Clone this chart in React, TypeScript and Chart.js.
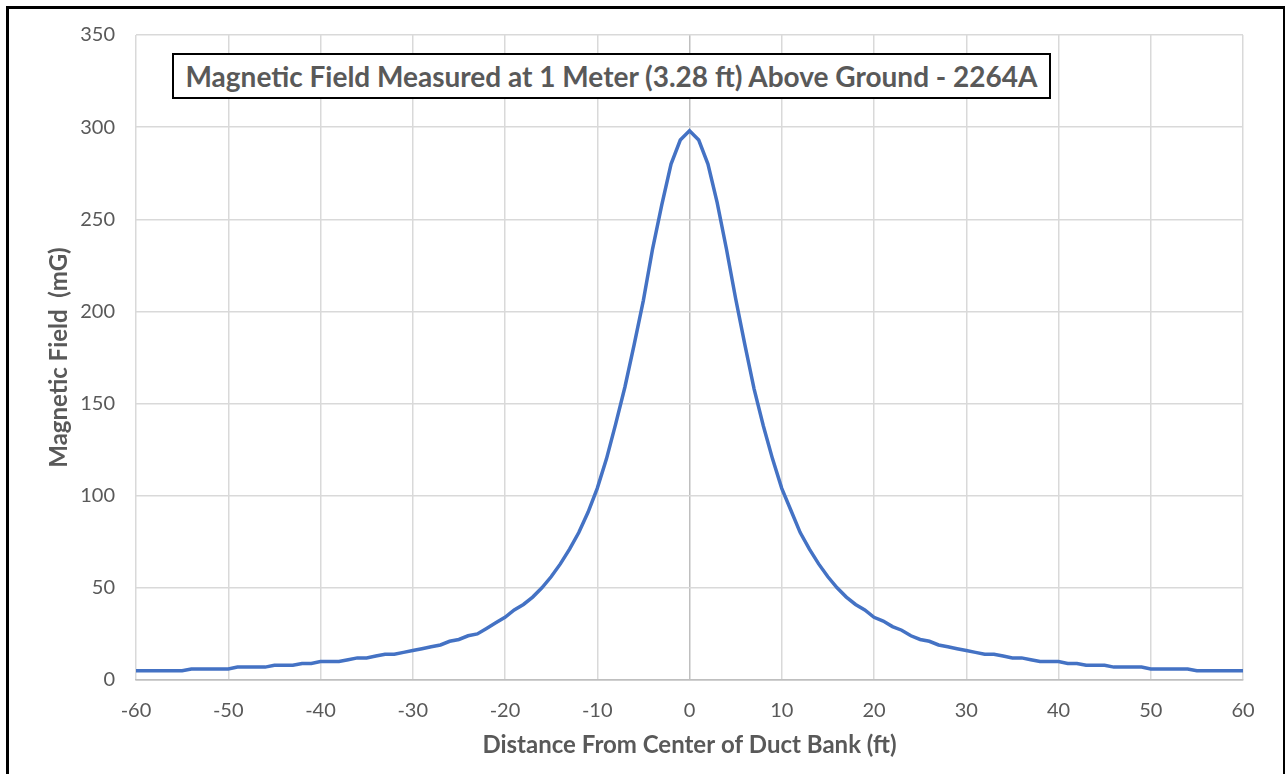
import React, { useEffect, useRef } from "react";
import { Chart, registerables } from "chart.js";

Chart.register(...registerables);

const distanceFt: number[] = [
  -60, -59, -58, -57, -56, -55, -54, -53, -52, -51, -50, -49, -48, -47, -46, -45, -44, -43, -42, -41,
  -40, -39, -38, -37, -36, -35, -34, -33, -32, -31, -30, -29, -28, -27, -26, -25, -24, -23, -22, -21,
  -20, -19, -18, -17, -16, -15, -14, -13, -12, -11, -10, -9, -8, -7, -6, -5, -4, -3, -2, -1,
  0,
  1, 2, 3, 4, 5, 6, 7, 8, 9, 10, 11, 12, 13, 14, 15, 16, 17, 18, 19, 20,
  21, 22, 23, 24, 25, 26, 27, 28, 29, 30, 31, 32, 33, 34, 35, 36, 37, 38, 39, 40,
  41, 42, 43, 44, 45, 46, 47, 48, 49, 50, 51, 52, 53, 54, 55, 56, 57, 58, 59, 60,
];

const fieldMg: number[] = [
  5, 5, 5, 5, 5, 5, 6, 6, 6, 6, 6, 7, 7, 7, 7, 8, 8, 8, 9, 9,
  10, 10, 10, 11, 12, 12, 13, 14, 14, 15, 16, 17, 18, 19, 21, 22, 24, 25, 28, 31,
  34, 38, 41, 45, 50, 56, 63, 71, 80, 91, 104, 120, 139, 159, 182, 206, 234, 258, 280, 293,
  298,
  293, 280, 259, 234, 207, 182, 158, 138, 120, 104, 92, 80, 71, 63, 56, 50, 45, 41, 38, 34,
  32, 29, 27, 24, 22, 21, 19, 18, 17, 16, 15, 14, 14, 13, 12, 12, 11, 10, 10, 10,
  9, 9, 8, 8, 8, 7, 7, 7, 7, 6, 6, 6, 6, 6, 5, 5, 5, 5, 5, 5,
];

const chartTitle = "Magnetic Field Measured at 1 Meter (3.28 ft) Above Ground - 2264A";
const xTitle = "Distance From Center of Duct Bank (ft)";
const yTitle = "Magnetic Field  (mG)";

const FONT = "Lato, 'Open Sans', sans-serif";
const TEXT = "#595959";

export default function App() {
  const ref = useRef<HTMLCanvasElement | null>(null);

  useEffect(() => {
    if (!ref.current) return;
    const points = distanceFt.map((x, i) => ({ x, y: fieldMg[i] }));
    const chart = new Chart(ref.current, {
      type: "line",
      data: {
        datasets: [
          {
            data: points,
            borderColor: "#4472C4",
            borderWidth: 3.5,
            pointRadius: 0,
            tension: 0,
            fill: false,
          },
        ],
      },
      options: {
        animation: false,
        responsive: false,
        devicePixelRatio: 1,
        layout: { padding: { top: 35, right: 43, left: 0, bottom: 0 } },
        plugins: { legend: { display: false }, tooltip: { enabled: false } },
        scales: {
          x: {
            type: "linear",
            min: -60,
            max: 60,
            ticks: {
              stepSize: 10,
              color: TEXT,
              padding: 19,
              maxRotation: 0,
              font: { family: FONT, size: 20 },
            },
            grid: {
              drawTicks: false,
              color: (c: any) => (c.tick && c.tick.value === 0 ? "#bfbfbf" : "#d9d9d9"),
              lineWidth: 1.5,
            },
            border: { display: true, color: "#bfbfbf", width: 1.5 },
            title: {
              display: true,
              text: xTitle,
              color: TEXT,
              font: { family: FONT, size: 24, weight: "bold" },
              padding: { top: 0, bottom: 14 },
            },
            afterFit: (s: any) => {
              s.height = 94;
            },
          },
          y: {
            min: 0,
            max: 350,
            ticks: {
              stepSize: 50,
              color: TEXT,
              padding: 21,
              font: { family: FONT, size: 20 },
            },
            grid: {
              drawTicks: false,
              color: (c: any) => (c.tick && c.tick.value === 0 ? "#bfbfbf" : "#d9d9d9"),
              lineWidth: 1.5,
            },
            border: { display: false },
            title: {
              display: true,
              text: yTitle,
              color: TEXT,
              font: { family: FONT, size: 24, weight: "bold" },
              padding: { top: 45, bottom: 0 },
            },
            afterFit: (s: any) => {
              s.width = 136;
            },
          },
        },
      },
    });
    return () => chart.destroy();
  }, []);

  return (
    <div
      style={{
        position: "fixed",
        left: 0,
        top: 0,
        width: 1286,
        height: 774,
        overflow: "hidden",
        background: "#fff",
      }}
    >
      <canvas ref={ref} width={1286} height={774} style={{ position: "absolute", left: 0, top: 0, width: 1286, height: 774 }} />
      <div
        style={{
          position: "absolute",
          left: 6,
          top: 6,
          width: 1274,
          height: 900,
          borderLeft: "3px solid #000",
          borderTop: "3px solid #000",
          borderRight: "2px solid #000",
          pointerEvents: "none",
        }}
      />
      <div
        style={{
          position: "absolute",
          left: 172,
          top: 53,
          width: 875,
          height: 42,
          border: "2px solid #000",
          background: "#fff",
          display: "flex",
          alignItems: "center",
          justifyContent: "center",
          fontFamily: FONT,
          fontWeight: "bold",
          fontSize: 28,
          color: TEXT,
          whiteSpace: "nowrap",
        }}
      >
        {chartTitle}
      </div>
    </div>
  );
}
